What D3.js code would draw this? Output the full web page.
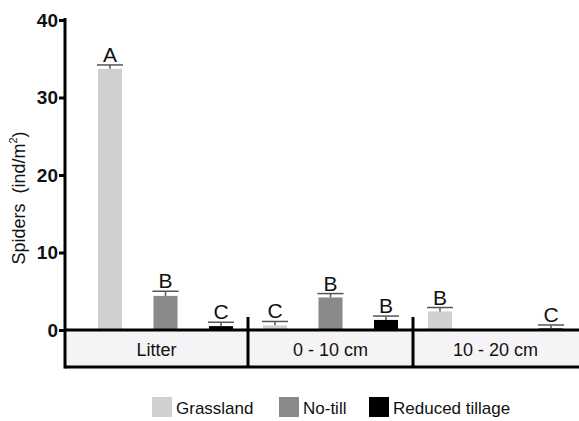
<!DOCTYPE html>
<html>
<head>
<meta charset="utf-8">
<script src="https://cdnjs.cloudflare.com/ajax/libs/d3/7.8.5/d3.min.js"></script>
<style>
  body { margin: 0; background: #fff; }
  text { font-family: Arial, "Liberation Sans", sans-serif; }
</style>
</head>
<body>
<div id="chart"></div>
<script>
// spider density by habitat layer and land use

var categories = ["Litter", "0 - 10 cm", "10 - 20 cm"];
var seriesNames = ["Grassland", "No-till", "Reduced tillage"];

var grassland = [33.7, 0.6, 2.4];
var grasslandErr = [0.5, 0.5, 0.5];
var grasslandLetters = ["A", "C", "B"];

var noTill = [4.4, 4.2, 0];
var noTillErr = [0.6, 0.5, null];
var noTillLetters = ["B", "B", ""];

var reduced = [0.5, 1.3, 0.2];
var reducedErr = [0.5, 0.5, 0.45];
var reducedLetters = ["C", "B", "C"];

var yTicks = [0, 10, 20, 30, 40];

var colors = ["#d0d0d0", "#8a8a8a", "#000000"];

var svgWidth = 579;
var svgHeight = 421;

var svg = d3.select("#chart")
  .append("svg")
  .attr("width", svgWidth)
  .attr("height", svgHeight);

var axisX = 65;
var baseY = 330;
var boxBottom = 367;

var yscale = d3.scaleLinear()
  .domain([0, 40])
  .range([baseY, 20]);

var xscale = d3.scaleBand()
  .domain(categories)
  .range([83, 578]);

var inner = d3.scaleBand()
  .domain(seriesNames)
  .range([0, xscale.bandwidth()])
  .paddingInner(0.567)
  .paddingOuter(0.27);

// category box under the axis
svg.append("rect")
  .attr("x", axisX)
  .attr("y", baseY)
  .attr("width", svgWidth - axisX + 5)
  .attr("height", boxBottom - baseY)
  .attr("fill", "#f5f3f5");

svg.append("line")
  .attr("x1", axisX).attr("x2", svgWidth)
  .attr("y1", boxBottom).attr("y2", boxBottom)
  .attr("stroke", "#000").attr("stroke-width", 3);

// dividers between categories
categories.slice(1).forEach(function(c) {
  svg.append("line")
    .attr("x1", xscale(c)).attr("x2", xscale(c))
    .attr("y1", 317).attr("y2", boxBottom + 1)
    .attr("stroke", "#000").attr("stroke-width", 3);
});

svg.selectAll(".catLabel")
  .data(categories)
  .enter()
  .append("text")
  .attr("class", "catLabel")
  .attr("x", function(d, i) {
    var left = i === 0 ? axisX : xscale(d);
    var right = xscale(d) + xscale.bandwidth();
    return (left + right) / 2;
  })
  .attr("y", 356)
  .attr("text-anchor", "middle")
  .attr("font-size", "18px")
  .attr("fill", "#111")
  .text(function(d) { return d; });

// bars
var seriesData = [
  { name: "Grassland", values: grassland, errs: grasslandErr, letters: grasslandLetters },
  { name: "No-till", values: noTill, errs: noTillErr, letters: noTillLetters },
  { name: "Reduced tillage", values: reduced, errs: reducedErr, letters: reducedLetters }
];

seriesData.forEach(function(s, si) {
  var rows = categories.map(function(c, i) {
    return { cat: c, value: s.values[i], err: s.errs[i], letter: s.letters[i] };
  });
  var g = svg.append("g");
  var bw = inner.bandwidth();

  g.selectAll("rect")
    .data(rows.filter(function(d) { return d.value > 0; }))
    .enter()
    .append("rect")
    .attr("x", function(d) { return xscale(d.cat) + inner(s.name); })
    .attr("y", function(d) { return yscale(d.value); })
    .attr("width", bw)
    .attr("height", function(d) { return baseY - yscale(d.value); })
    .attr("fill", colors[si]);

  var withErr = rows.filter(function(d) { return d.err !== null; });

  // error bar stem
  g.selectAll(".stem")
    .data(withErr)
    .enter()
    .append("line")
    .attr("class", "stem")
    .attr("x1", function(d) { return xscale(d.cat) + inner(s.name) + bw / 2; })
    .attr("x2", function(d) { return xscale(d.cat) + inner(s.name) + bw / 2; })
    .attr("y1", function(d) { return yscale(d.value); })
    .attr("y2", function(d) { return yscale(d.value + d.err); })
    .attr("stroke", "#555")
    .attr("stroke-width", 1.5);

  // error bar cap
  g.selectAll(".cap")
    .data(withErr)
    .enter()
    .append("line")
    .attr("class", "cap")
    .attr("x1", function(d) { return xscale(d.cat) + inner(s.name) - 1; })
    .attr("x2", function(d) { return xscale(d.cat) + inner(s.name) + bw + 1; })
    .attr("y1", function(d) { return yscale(d.value + d.err); })
    .attr("y2", function(d) { return yscale(d.value + d.err); })
    .attr("stroke", "#555")
    .attr("stroke-width", 1.5);

  // significance letters
  g.selectAll(".letter")
    .data(withErr.filter(function(d) { return d.letter; }))
    .enter()
    .append("text")
    .attr("class", "letter")
    .attr("x", function(d) { return xscale(d.cat) + inner(s.name) + bw / 2; })
    .attr("y", function(d) { return yscale(d.value + d.err) - 3; })
    .attr("text-anchor", "middle")
    .attr("font-size", "21px")
    .attr("fill", "#111")
    .text(function(d) { return d.letter; });
});

// x axis line
svg.append("line")
  .attr("x1", axisX).attr("x2", svgWidth)
  .attr("y1", baseY).attr("y2", baseY)
  .attr("stroke", "#000").attr("stroke-width", 3);

// y axis
var leftAxis = d3.axisLeft(yscale)
  .tickValues(yTicks)
  .tickSize(6)
  .tickPadding(1);

var yAxis = svg.append("g")
  .attr("transform", `translate(${axisX}, 0)`)
  .call(leftAxis);

yAxis.select(".domain").remove();
yAxis.selectAll(".tick line")
  .attr("stroke", "#000")
  .attr("stroke-width", 3);
yAxis.selectAll(".tick text")
  .attr("font-size", "19px")
  .attr("font-weight", "bold")
  .attr("font-family", "Arial, 'Liberation Sans', sans-serif")
  .attr("fill", "#111");

svg.append("line")
  .attr("x1", axisX).attr("x2", axisX)
  .attr("y1", 18).attr("y2", boxBottom + 1.5)
  .attr("stroke", "#000").attr("stroke-width", 3);

// y axis title
var ylabel = svg.append("text")
  .attr("transform", "translate(25, 198) rotate(-90)")
  .attr("text-anchor", "middle")
  .attr("font-size", "18px")
  .attr("fill", "#111");
ylabel.append("tspan").text("Spiders\u00a0 (ind/m");
ylabel.append("tspan").attr("font-size", "11px").attr("dy", -8).text("2");
ylabel.append("tspan").attr("dy", 8).text(")");

// legend
var legendX = [152, 279, 369];
var legend = svg.selectAll(".legend")
  .data(seriesNames)
  .enter()
  .append("g")
  .attr("class", "legend")
  .attr("transform", function(d, i) { return `translate(${legendX[i]}, 397)`; });

legend.append("rect")
  .attr("width", 20)
  .attr("height", 20)
  .attr("fill", function(d, i) { return colors[i]; });

legend.append("text")
  .attr("x", 24)
  .attr("y", 17)
  .attr("font-size", "17px")
  .attr("fill", "#111")
  .text(function(d) { return d; });
</script>
</body>
</html>
